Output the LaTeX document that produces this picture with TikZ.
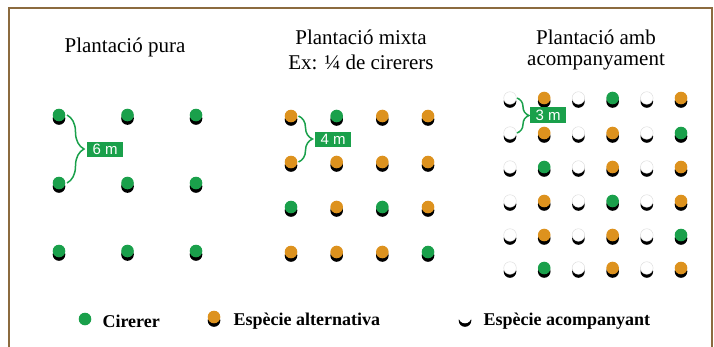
\documentclass[tikz,border=0pt]{standalone}
\usepackage{fontspec}
\setmainfont{Liberation Serif}
\newfontfamily\lblfont{Liberation Sans}
\usetikzlibrary{shadows,decorations.pathreplacing}
\definecolor{cgreen}{RGB}{26,160,75}
\definecolor{corange}{RGB}{221,146,30}
\definecolor{cframe}{RGB}{140,107,63}
\tikzset{
  dotplain/.style={circle, minimum size=12.6pt, inner sep=0pt},
  dotbase/.style={dotplain,
    drop shadow={fill=black, opacity=1, shadow xshift=0pt, shadow yshift=-3.5pt}},
  dotG/.style={dotbase, fill=cgreen},
  dotO/.style={dotbase, fill=corange},
  dotW/.style={dotbase, fill=white, draw=black!15, line width=0.4pt},
  brc/.style={draw=cgreen, line width=1.5pt, decorate},
  lbl/.style={fill=cgreen, text=white, font=\lblfont\fontsize{15}{15}\selectfont,
    minimum width=36pt, minimum height=15.5pt, inner sep=0pt, anchor=west},
  ttl/.style={font=\fontsize{21}{25}\selectfont, align=center},
  leg/.style={font=\bfseries\fontsize{18}{21}\selectfont, anchor=west},
  frm/.style={draw=cframe, line width=1.2pt}
}
\begin{document}
\begin{tikzpicture}[x=1pt,y=-1pt]
\useasboundingbox (0,0) rectangle (714,346);
\draw[frm] (9,350) -- (9,8) -- (712,8) -- (712,350);

% titles
\node[ttl] (t1) at (125,47) {Plantació pura};
\node[ttl] (t2a) at (361,37) {Plantació mixta};
\node[ttl] (t2b) at (361,62) {Ex: ¼ de cirerers};
\node[ttl] (t3a) at (596,37) {Plantació amb};
\node[ttl] (t3b) at (596,62) {acompanyament};

% panel 1
\foreach \y [count=\i] in {115,183,251}
  \foreach \x [count=\j] in {59,127.5,196}
    \node[dotG] (a-\i-\j) at (\x,\y) {};

% panel 2
\foreach \y/\row [count=\i] in {116/{O,G,O,O},162/{O,O,O,O},207/{G,O,G,O},252/{O,O,O,G}}
  \foreach \s [count=\j] in \row
    \node[dot\s] (b-\i-\j) at ({291+45.67*(\j-1)},\y) {};

% panel 3
\foreach \y/\row [count=\i] in {98/{W,O,W,G,W,O},133/{W,O,W,O,W,G},167/{W,G,W,O,W,O},201/{W,O,W,G,W,O},235/{W,O,W,O,W,G},268/{W,G,W,O,W,O}}
  \foreach \s [count=\j] in \row
    \node[dot\s] (c-\i-\j) at ({510+34.2*(\j-1)},\y) {};

% braces and labels
\draw[brc, decoration={brace, amplitude=17pt}] ([xshift=1.5pt]a-1-1.east) -- ([xshift=1.5pt]a-2-1.east);
\node[lbl] (l1) at (87,149.5) {6 m};
\draw[brc, decoration={brace, amplitude=14pt}] ([xshift=1pt]b-1-1.east) -- ([xshift=1pt]b-2-1.east);
\node[lbl] (l2) at (315,139.5) {4 m};
\draw[brc, decoration={brace, amplitude=12pt}] ([xshift=0.5pt]c-1-1.east) -- ([xshift=0.5pt]c-2-1.east);
\node[lbl] (l3) at (530,115) {3 m};

% legend
\node[dotplain, fill=cgreen] (g1) at (85,319) {};
\node[leg] (g1t) at (99,321) {Cirerer};
\node[dotO] (g2) at (214,317) {};
\node[leg] (g2t) at (230,321) {Espècie alternativa};
\node[dotbase, fill=white] (g3) at (465,317) {};
\node[leg] (g3t) at (480,321) {Espècie acompanyant};
\end{tikzpicture}
\end{document}
